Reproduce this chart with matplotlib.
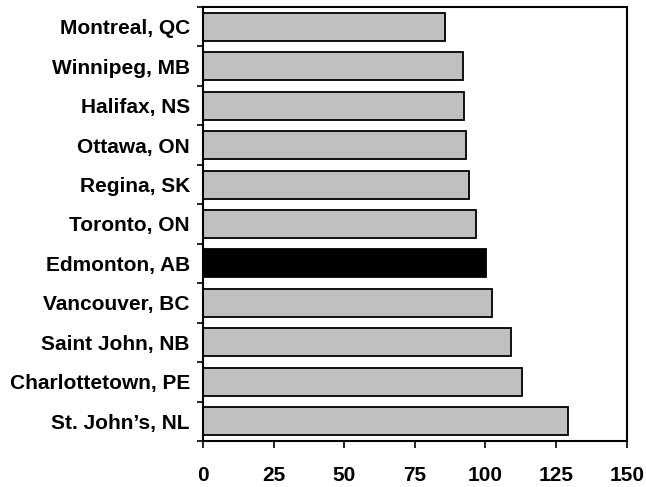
import matplotlib.pyplot as plt
import numpy as np

cities = [
    "Montreal, QC",
    "Winnipeg, MB",
    "Halifax, NS",
    "Ottawa, ON",
    "Regina, SK",
    "Toronto, ON",
    "Edmonton, AB",
    "Vancouver, BC",
    "Saint John, NB",
    "Charlottetown, PE",
    "St. John\u2019s, NL",
]
values = [85.6, 91.9, 92.5, 93.2, 94.1, 96.8, 100.3, 102.4, 108.9, 113.0, 129.2]
highlight = "Edmonton, AB"
xticks = [0, 25, 50, 75, 100, 125, 150]

plt.rcParams["font.family"] = ["Liberation Sans", "DejaVu Sans"]

fig = plt.figure(figsize=(6.46, 4.87), dpi=100)
ax = fig.add_axes([0.3142, 0.0945, 0.6560, 0.8911])

pos = np.arange(len(cities))
colors = ["black" if c == highlight else "#c0c0c0" for c in cities]
ax.barh(pos, values, height=0.71, color=colors, edgecolor="black", linewidth=1.3)

ax.set_xlim(0, 150)
ax.set_ylim(len(cities) - 0.5, -0.5)
ax.set_xticks(xticks)
ax.set_xticklabels([str(t) for t in xticks], fontsize=15, fontweight="bold")
ax.set_yticks(pos)
ax.set_yticklabels(cities, fontsize=15, fontweight="bold")
ax.set_yticks(np.arange(len(cities) + 1) - 0.5, minor=True)

ax.tick_params(axis="y", which="major", length=0, pad=9.5)
ax.tick_params(axis="y", which="minor", length=4, width=1.2, direction="out")
ax.tick_params(axis="x", length=5, width=1.2, direction="out", pad=13)

for s in ax.spines.values():
    s.set_linewidth(1.5)

fig.savefig("out.png", dpi=100)
